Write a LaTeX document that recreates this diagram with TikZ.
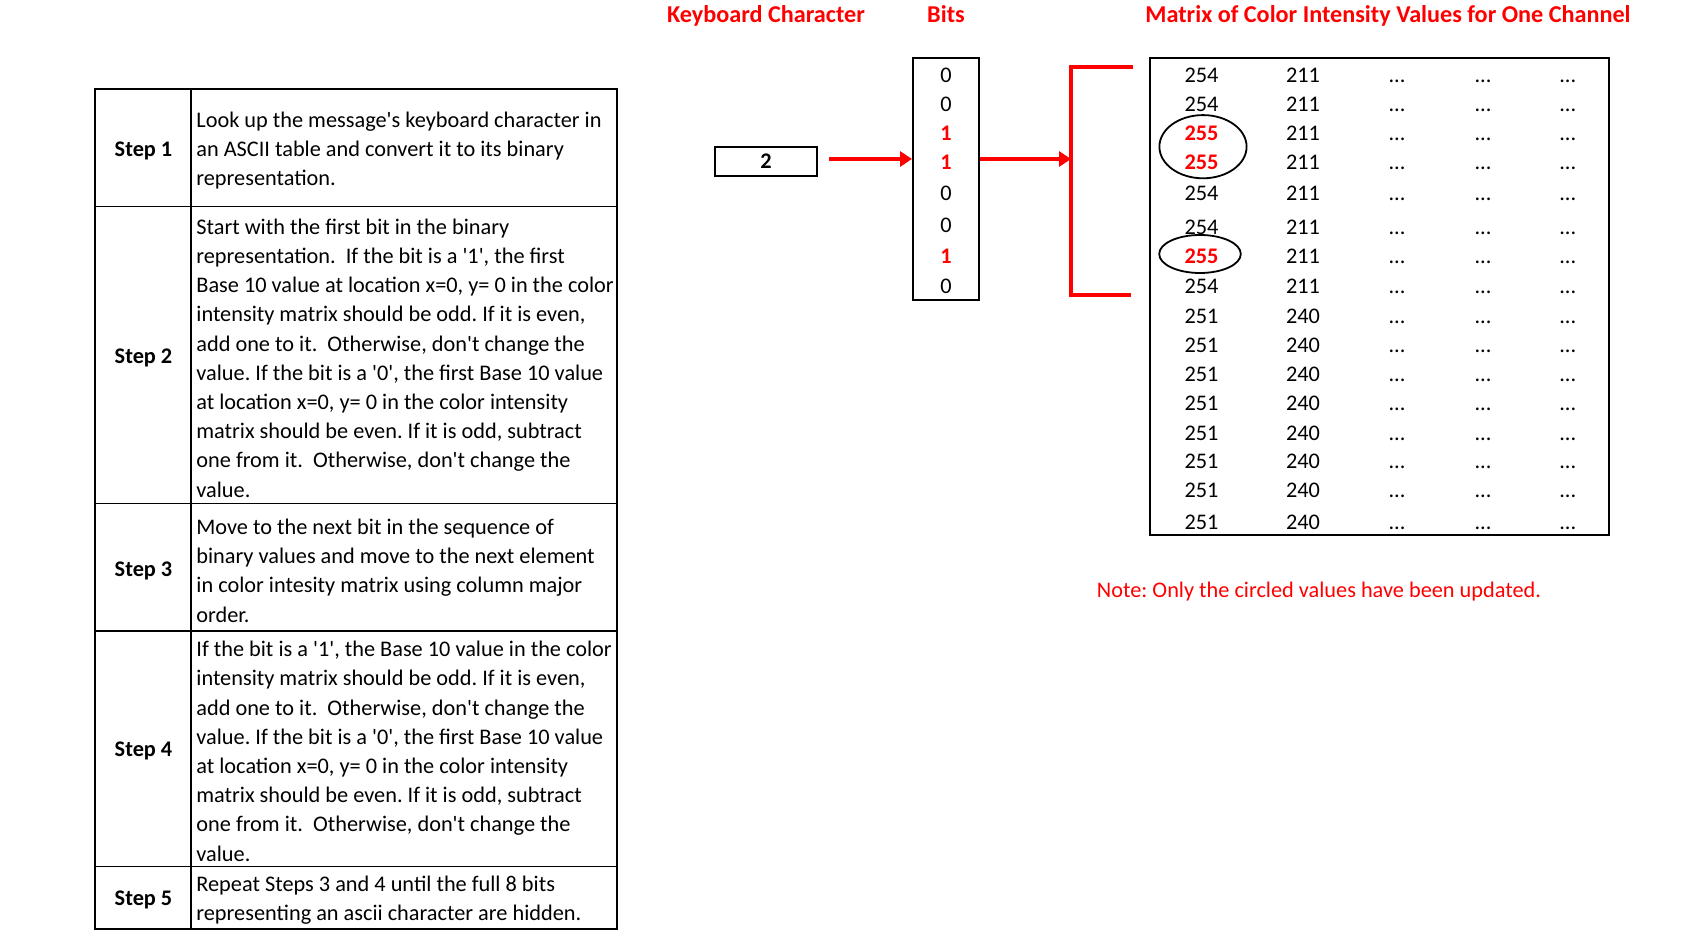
\documentclass[tikz,border=0pt]{standalone}
\usepackage{fontspec}
\usepackage{tikz}
\usetikzlibrary{arrows.meta}
\newfontfamily\calib{Carlito}
\definecolor{accent}{HTML}{FF0000}
\frenchspacing

\tikzset{
  txt/.style={font=\calib\fontsize{11.15}{14.6}\selectfont, inner sep=0pt, yshift=-1.3pt},
  cell/.style={txt, text height=1.5ex, text depth=.25ex},
  hot/.style={cell, text=accent, font=\calib\bfseries\fontsize{11.15}{14.6}\selectfont},
  head/.style={hot, font=\calib\bfseries\fontsize{12.1}{14.6}\selectfont},
  flow/.style={accent, line width=2.2pt, -{Triangle[length=6pt,width=7.5pt]}},
}

\begin{document}
\begin{tikzpicture}[x=0.5pt, y=-0.5pt]
  \useasboundingbox (0,0) rectangle (1694,951);

  % steps table
  \draw[line width=0.8pt] (95,89) rectangle (617,929);
  \draw[line width=0.8pt] (191,89) -- (191,929);
  \foreach \y in {206.4, 503.5, 631, 866.5}
    \draw[line width=0.8pt] (95,\y) -- (617,\y);
  \foreach \y/\n in {148/1, 355.5/2, 568/3, 748.7/4, 897.8/5}
    \node[txt, font=\calib\bfseries\fontsize{11.15}{14.6}\selectfont] (step\n) at (143.5,\y) {Step \n};

  \node[txt, anchor=west, align=left] (text1) at (196,148) {%
    Look up the message's keyboard character in\\
    an ASCII table and convert it to its binary\\
    representation.};
  \node[txt, anchor=west, align=left] (text2) at (196,355.5) {%
    Start with the first bit in the binary\\
    representation.~ If the bit is a '1', the first\\
    Base 10 value at location x=0, y= 0 in the color\\
    intensity matrix should be odd. If it is even,\\
    add one to it.~ Otherwise, don't change the\\
    value. If the bit is a '0', the first Base 10 value\\
    at location x=0, y= 0 in the color intensity\\
    matrix should be even. If it is odd, subtract\\
    one from it.~ Otherwise, don't change the\\
    value.};
  \node[txt, anchor=west, align=left] (text3) at (196,568) {%
    Move to the next bit in the sequence of\\
    binary values and move to the next element\\
    in color intesity matrix using column major\\
    order.};
  \node[txt, anchor=west, align=left] (text4) at (196,748.7) {%
    If the bit is a '1', the Base 10 value in the color\\
    intensity matrix should be odd. If it is even,\\
    add one to it.~ Otherwise, don't change the\\
    value. If the bit is a '0', the first Base 10 value\\
    at location x=0, y= 0 in the color intensity\\
    matrix should be even. If it is odd, subtract\\
    one from it.~ Otherwise, don't change the\\
    value.};
  \node[txt, anchor=west, align=left] (text5) at (196,897.8) {%
    Repeat Steps 3 and 4 until the full 8 bits\\
    representing an ascii character are hidden.};

  % headings
  \node[head] (hkey) at (766,15) {Keyboard Character};
  \node[head] (hbits) at (946,15) {Bits};
  \node[head] (hmat) at (1388,15) {Matrix of Color Intensity Values for One Channel};

  % character and its bits
  \node[draw, line width=1pt, minimum width=51pt, minimum height=14.5pt,
        font=\calib\bfseries\fontsize{11.15}{14.6}\selectfont] (key) at (766,161.5) {2};
  \node[draw, line width=1pt, minimum width=33pt, minimum height=121pt] (bits) at (946,179) {};
  \foreach \y/\b/\s [count=\i] in {74.5/0/cell, 103.7/0/cell, 132.9/1/hot, 162/1/hot,
                                   192.3/0/cell, 224.7/0/cell, 256/1/hot, 285.2/0/cell}
    \node[\s] (bit\i) at (946,\y) {\b};

  \coordinate (brk) at (1071,159);
  \draw[flow, shorten <=5.5pt] (key.east |- brk) -- (bits.west |- brk);
  \draw[flow] (bits.east |- brk) -- (brk);
  \draw[accent, line width=2.2pt] (1133,67) -- (1071,67) -- (1071,295) -- (1131,295);

  % matrix
  \draw[line width=1pt] (1150,58) rectangle (1609,535);
  \foreach \y/\a/\b/\s [count=\i] in {74.5/254/211/cell, 103.7/254/211/cell, 132.9/255/211/hot,
      162/255/211/hot, 192.3/254/211/cell, 226.9/254/211/cell, 256/255/211/hot,
      285.2/254/211/cell, 315.5/251/240/cell, 344.6/251/240/cell, 373.8/251/240/cell,
      403/251/240/cell, 432.2/251/240/cell, 460.3/251/240/cell, 489.4/251/240/cell,
      521.8/251/240/cell} {
    \node[\s] (m\i a) at (1201.5,\y) {\a};
    \node[cell] (m\i b) at (1303,\y) {\b};
    \foreach \x [count=\j] in {1397, 1483, 1567.7}
      \node[cell] (m\i d\j) at (\x,\y) {...};
  }
  \draw[line width=0.9pt] (1203,146.7) ellipse [x radius=21.8pt, y radius=15.8pt];
  \draw[line width=0.9pt] (1200,254) ellipse [x radius=20.4pt, y radius=9.5pt];

  \node[txt, text=accent] (note) at (1319,589) {Note: Only the circled values have been updated.};
\end{tikzpicture}
\end{document}
